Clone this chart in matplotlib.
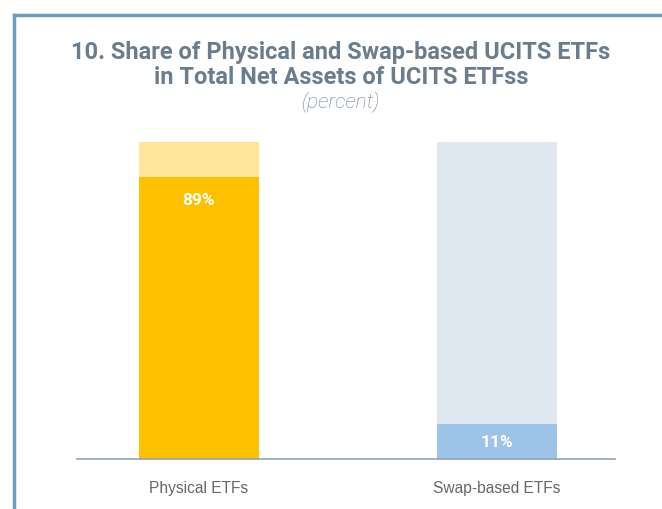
import numpy as np
import matplotlib.pyplot as plt

categories = ['Physical ETFs', 'Swap-based ETFs']
shares = [89, 11]
totals = [100, 100]

bar_colors = ['#FFC000', '#9DC3E6']
bg_colors = ['#FFE49A', '#DFE8F1']

fig = plt.figure(figsize=(6.62, 5.10), dpi=100)
ax = fig.add_axes([0.1163, 0.098, 0.8127, 0.6216])

x = np.arange(len(categories))
w = 0.403
ax.bar(x, totals, w, color=bg_colors, zorder=1)
ax.bar(x, shares, w, color=bar_colors, zorder=2)

# value labels
ax.text(x[0], shares[0] - 7, f'{shares[0]}%', ha='center', va='center',
        color='white', fontsize=12.5, fontweight='bold', family='Roboto')
ax.text(x[1], shares[1] / 2, f'{shares[1]}%', ha='center', va='center',
        color='white', fontsize=12.5, fontweight='bold', family='Roboto')

ax.set_xlim(-0.409, 1.396)
ax.set_ylim(0, 100)
ax.set_xticks(x)
ax.set_xticklabels(categories, fontsize=11.2, color='#666666', family='Liberation Sans')
ax.tick_params(axis='x', length=0, pad=15)
ax.set_yticks([])
for s in ['top', 'right', 'left']:
    ax.spines[s].set_visible(False)
ax.spines['bottom'].set_color('#8EA5BD')
ax.spines['bottom'].set_linewidth(1.2)

# frame lines (left and top)
fig.add_artist(plt.Line2D([14 / 662, 14 / 662], [0, 1 - 16 / 510], color='#6E9CC0', lw=2.5))
fig.add_artist(plt.Line2D([14 / 662, 1], [1 - 16 / 510, 1 - 16 / 510], color='#6E9CC0', lw=2.5))

fig.text(341 / 662, 1 - 52 / 510, '10. Share of Physical and Swap-based UCITS ETFs',
         ha='center', va='center', fontsize=17, fontweight='bold', color='#6B7D8C', family='Roboto')
fig.text(341 / 662, 1 - 77 / 510, 'in Total Net Assets of UCITS ETFss',
         ha='center', va='center', fontsize=17, fontweight='bold', color='#6B7D8C', family='Roboto')
fig.text(341 / 662, 1 - 102 / 510, '(percent)',
         ha='center', va='center', fontsize=15, style='italic', fontweight='light',
         color='#6B7D8C', family='Roboto')

plt.savefig('out.png', dpi=100)
